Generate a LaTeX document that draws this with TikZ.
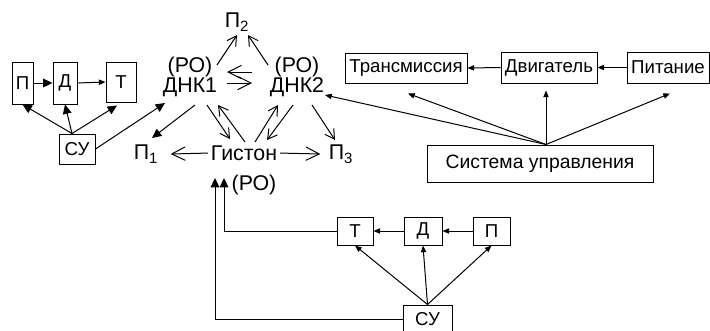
\documentclass[tikz,border=0pt]{standalone}
\usepackage{fontspec}
\setmainfont{Liberation Sans}
\usetikzlibrary{arrows.meta,positioning,calc}

\begin{document}
\begin{tikzpicture}[
  x=0.75pt, y=-0.75pt,
  font=\fontsize{14}{15}\selectfont,
  line width=0.75pt,
  box/.style={draw, inner sep=0pt, align=center},
  txt/.style={inner sep=0pt, align=center, font=\fontsize{16}{15}\selectfont},
  arr/.style={-{Straight Barb[length=7pt,width=8pt]}},
  bigarr/.style={-{Straight Barb[length=10pt,width=10pt]}},
  farr/.style={-{Triangle[length=7pt,width=6.5pt]}},
  sarr/.style={-{Triangle[length=5pt,width=4pt]}}
]
\useasboundingbox (0,0) rectangle (710,330);

% left group
\node[box, minimum width=15.75pt, minimum height=31.5pt] (lP) at (22.5,83) {П};
\node[box, minimum width=18pt, minimum height=31.5pt] (lD) at (65,83) {Д};
\node[box, minimum width=22.5pt, minimum height=30pt] (lT) at (121,82) {Т};
\node[box, minimum width=27pt, minimum height=22.5pt] (lSU) at (77,149) {СУ};
\draw[farr] (lP.east) -- (lD.west);
\draw[sarr] (lD.east) -- (lT.west);
\draw[farr] ($(lSU.north)+(-5,0)$) -- (lP.south);
\draw[farr] ($(lSU.north)+(-5,0)$) -- (lD.south);
\draw[farr] ($(lSU.north)+(-5,0)$) -- ($(lT.south)+(-4,3)$);

% centre
\node[txt] (dnk1) at (190,77) {(РО)\\ДНК1};
\node[txt] (dnk2) at (297,77) {(РО)\\ДНК2};
\node[txt] (p2) at (237,22) {П\textsubscript{2}};
\node[txt] (hist) at (244,153) {Гистон};
\node[txt] (p1) at (146,154) {П\textsubscript{1}};
\node[txt] (p3) at (341,154) {П\textsubscript{3}};
\draw[farr] (lSU.east) -- ($(dnk1)+(-25,26)$);
\draw[arr] ($(dnk1)+(27,-12)$) -- ($(p2)+(0,13)$);
\draw[arr] ($(dnk2)+(-29,-12)$) -- ($(p2)+(11,13)$);
\draw[bigarr] ($(dnk2)+(-45,-5)$) -- ($(dnk1)+(37,-5)$);
\draw[bigarr] ($(dnk1)+(37,6)$) -- ($(dnk2)+(-45,6)$);
\draw[farr] ($(dnk1)+(5,28)$) -- ($(p1)+(6,-16)$);
\draw[arr] ($(dnk1)+(17,28)$) -- ($(hist)+(-14,-14)$);
\draw[arr] ($(hist)+(1,-11)$) -- ($(dnk1)+(28,28)$);
\draw[arr] ($(hist)+(11,-11)$) -- ($(dnk2)+(-19,28)$);
\draw[arr] ($(dnk2)+(-4,28)$) -- ($(hist)+(23,-13)$);
\draw[arr] ($(dnk2)+(15,28)$) -- ($(p3)+(-6,-14)$);
\draw[bigarr, shorten <=2pt] (hist.west) -- ($(p1.east)+(12,0)$);
\draw[bigarr, shorten <=2pt] (hist.east) -- ($(p3.west)+(-8,0)$);

% right group
\node[box, minimum width=91.5pt, minimum height=22.5pt] (trans) at (406,68) {Трансмиссия};
\node[box, minimum width=72pt, minimum height=23.25pt] (dvig) at (549,67.5) {Двигатель};
\node[box, minimum width=61.5pt, minimum height=23.25pt] (pit) at (668,67.5) {Питание};
\node[box, minimum width=169.5pt, minimum height=27.75pt, font=\fontsize{14.5}{15}\selectfont] (sys) at (540,163.5) {Система управления};
\draw[sarr] (dvig.west) -- (trans.east);
\draw[sarr] (pit.west) -- (dvig.east);
\draw[sarr] ($(sys.north)+(6,0)$) -- ($(trans.south)+(2,10)$);
\draw[sarr] ($(sys.north)+(6,0)$) -- ($(dvig.south)+(-3,7)$);
\draw[sarr] ($(sys.north)+(6,0)$) -- ($(pit.south)+(2,10)$);
\draw[sarr] ($(sys.north)+(6,0)$) -- ($(dnk2)+(28,18)$);

% bottom group
\node[box, minimum width=27pt, minimum height=21pt] (bT) at (355,231) {Т};
\node[box, minimum width=28.5pt, minimum height=21pt] (bD) at (423,231) {Д};
\node[box, minimum width=27.75pt, minimum height=21pt] (bP) at (491.5,231) {П};
\node[box, minimum width=36.75pt, minimum height=21pt] (bSU) at (427.5,319) {СУ};
\node[txt] (ro3) at (254,185) {(РО)};
\coordinate (up1) at (215,178);
\coordinate (up2) at (224,178);
\draw[sarr] (bD.west) -- (bT.east);
\draw[sarr] (bP.west) -- (bD.east);
\draw[sarr] (bSU.north) -- (bT.south);
\draw[sarr] (bSU.north) -- (bD.south);
\draw[sarr] (bSU.north) -- (bP.south);
\draw[farr] (bT.west) -| (up2);
\draw[farr] (bSU.west) -| (up1);
\end{tikzpicture}
\end{document}
